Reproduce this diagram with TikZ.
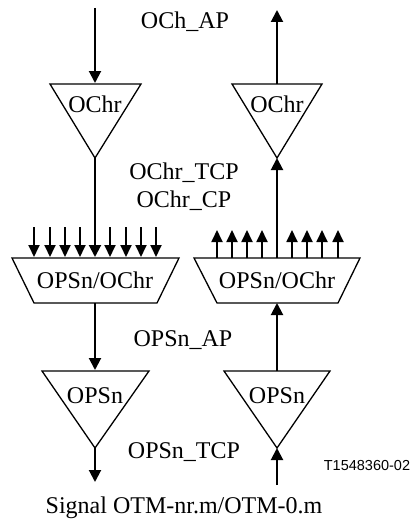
\documentclass[tikz,border=0pt]{standalone}
\usepackage{fontspec}
\setmainfont{Liberation Serif}
\newfontfamily\labsans{Liberation Sans}
\usetikzlibrary{arrows.meta}
\tikzset{
  blk/.style={draw=black, line width=1.3pt, line join=miter, fill=white},
  conn/.style={line width=2pt, -{Triangle[width=12pt,length=12pt]}},
  small/.style={line width=1.8pt, -{Triangle[width=11pt,length=12pt]}},
  lbl/.style={font=\fontsize{24}{28}\selectfont, inner sep=0pt, anchor=base},
  tag/.style={font=\labsans\fontsize{14.5}{17}\selectfont, inner sep=0pt, anchor=base},
}
\begin{document}
\begin{tikzpicture}[x=1pt,y=-1pt]
\useasboundingbox (0,0) rectangle (414,519);
% left column x=95, right column x=277
\coordinate (inL) at (95,8);
\coordinate (outR) at (277,10);
% OChr triangles
\coordinate (ochrLtop) at (95,83);
\coordinate (ochrLapex) at (95,158);
\coordinate (ochrRtop) at (277,84);
\coordinate (ochrRapex) at (277,158);
\draw[blk] (50,84) -- (141,84) -- (ochrLapex) -- cycle;
\draw[blk] (232,84) -- (322,84) -- (ochrRapex) -- cycle;
\node[lbl] (ochrL) at (95,112) {OChr};
\node[lbl] (ochrR) at (277,112) {OChr};
% trapezoids
\coordinate (trLtop) at (95,257);
\coordinate (trLbot) at (95,303);
\coordinate (trRtop) at (277,258);
\coordinate (trRbot) at (277,303);
\draw[blk] (12,258) -- (179,258) -- (157,303) -- (34,303) -- cycle;
\draw[blk] (194,258) -- (360,258) -- (338,303) -- (217,303) -- cycle;
\node[lbl] (trL) at (95,288) {OPSn/OChr};
\node[lbl] (trR) at (277,288) {OPSn/OChr};
% OPSn triangles
\coordinate (opsLtop) at (95,370);
\coordinate (opsLapex) at (95,448);
\coordinate (opsRtop) at (277,371);
\coordinate (opsRapex) at (277,448);
\draw[blk] (42,371) -- (149,371) -- (opsLapex) -- cycle;
\draw[blk] (224,371) -- (330,371) -- (opsRapex) -- cycle;
\node[lbl] (opsL) at (95,403) {OPSn};
\node[lbl] (opsR) at (277,403) {OPSn};
\coordinate (outL) at (95,482);
\coordinate (inR) at (277,485);
% main connectors
\draw[conn] (inL) -- (ochrLtop);
\draw[conn] (ochrRtop) -- (outR);
\draw[conn] (ochrLapex) -- (trLtop);
\draw[conn] (trRtop) -- (ochrRapex);
\draw[conn] (trLbot) -- (opsLtop);
\draw[conn] (opsRtop) -- (trRbot);
\draw[conn] (opsLapex) -- (outL);
\draw[conn] (inR) -- (opsRapex);
% small arrows left (down)
\foreach \x in {34,50,65,80,110,126,141,156}{
  \coordinate (sa\x) at (\x,227);
  \coordinate (sb\x) at (\x,257);
  \draw[small] (sa\x) -- (sb\x);
}
% small arrows right (up)
\foreach \x in {217,232,247,262,292,307,322,338}{
  \coordinate (ra\x) at (\x,258);
  \coordinate (rb\x) at (\x,230);
  \draw[small] (ra\x) -- (rb\x);
}
% labels
\node[lbl] (lap) at (185,29) {OCh\_AP};
\node[lbl] (ltcp) at (184,179) {OChr\_TCP};
\node[lbl] (lcp) at (184,207) {OChr\_CP};
\node[lbl] (lopsap) at (183,346) {OPSn\_AP};
\node[lbl] (lopstcp) at (184,458) {OPSn\_TCP};
\node[lbl] (lsig) at (184,513) {Signal OTM-nr.m/OTM-0.m};
\node[tag] (ltag) at (367,470) {T1548360-02};
\end{tikzpicture}
\end{document}
